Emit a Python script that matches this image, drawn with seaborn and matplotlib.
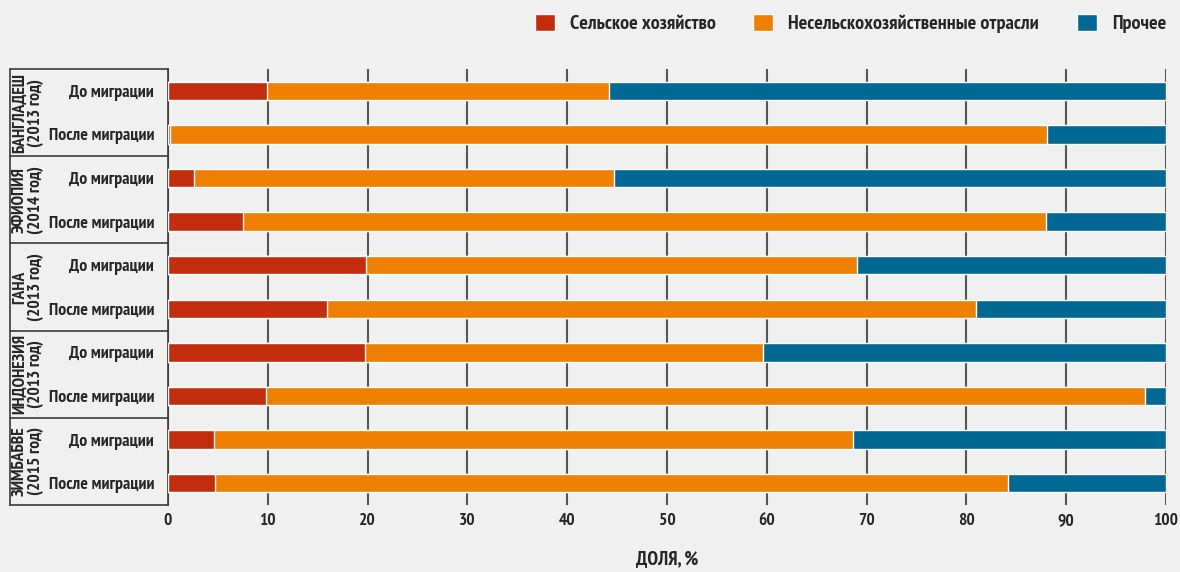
import matplotlib.pyplot as plt
import pandas as pd
import seaborn as sns
from matplotlib.patches import Patch

# ── Data ─────────────────────────────────────────────────────────────────────
countries = ["БАНГЛАДЕШ\n(2013 год)", "ЭФИОПИЯ\n(2014 год)", "ГАНА\n(2013 год)",
             "ИНДОНЕЗИЯ\n(2013 год)", "ЗИМБАБВЕ\n(2015 год)"]
periods = ["До миграции", "После миграции"]
series = ["Сельское хозяйство", "Несельскохозяйственные отрасли", "Прочее"]
agri = [9.9, 0.2, 2.6, 7.5, 19.8, 15.9, 19.7, 9.8, 4.6, 4.7]
nonagri = [34.3, 87.9, 42.1, 80.5, 49.2, 65.1, 39.9, 88.1, 64.0, 79.5]
other = [100 - a - n for a, n in zip(agri, nonagri)]
x_ticks = [0, 10, 20, 30, 40, 50, 60, 70, 80, 90, 100]

colors = ["#c32d0e", "#ef7f00", "#006993"]
BG = "#f0f0f0"
LINE = "#3a3a3a"

rows = [f"{c}|{p}" for c in countries for p in periods]
row_labels = [p for _ in countries for p in periods]

df = pd.DataFrame({"row": rows, "agri": agri, "nonagri": nonagri, "other": other})
df["cum_agri"] = df["agri"]
df["cum_nonagri"] = df["agri"] + df["nonagri"]
df["cum_other"] = df["cum_nonagri"] + df["other"]

sns.set_style("white", {"axes.facecolor": BG, "figure.facecolor": BG})
plt.rcParams["font.family"] = ["PT Sans Narrow", "Fira Sans Condensed", "Roboto Condensed",
                               "Archivo Narrow", "DejaVu Sans"]
plt.rcParams["font.weight"] = "bold"

fig = plt.figure(figsize=(11.8, 5.72), dpi=100)
ax = fig.add_axes([168 / 1180, 1 - 505 / 572, 998 / 1180, 436 / 572])

# stacked bars: draw cumulative totals from longest to shortest
for col, color in zip(["cum_other", "cum_nonagri", "cum_agri"], colors[::-1]):
    sns.barplot(data=df, x=col, y="row", order=rows, orient="h", color=color,
                width=0.42, saturation=1, ax=ax, zorder=3)

ax.set_xlim(0, 100)
ax.set_ylim(9.5, -0.5)
ax.set_xticks(x_ticks)
ax.set_xticklabels([str(t) for t in x_ticks], fontsize=12.5, fontweight="bold")
ax.set_yticks(range(len(rows)))
ax.set_yticklabels(row_labels, fontsize=12.8, fontweight="bold")
ax.tick_params(axis="both", length=0)
ax.tick_params(axis="y", pad=10)
ax.tick_params(axis="x", pad=6)
ax.set_ylabel("")
ax.set_xlabel("ДОЛЯ, %", fontsize=14, fontweight="bold")
ax.xaxis.set_label_coords(0.5, -(550 - 505) / 436)

ax.grid(axis="x", color="#555555", linewidth=1.5)
ax.set_axisbelow(True)
for s in ["top", "right", "bottom"]:
    ax.spines[s].set_visible(False)
ax.spines["left"].set_color(LINE)
ax.spines["left"].set_linewidth(1.2)

# group boxes on the left
tr = ax.get_yaxis_transform()
x_left = (10 - 168) / 998
for b in [-0.5, 1.5, 3.5, 5.5, 7.5, 9.5]:
    ax.plot([x_left, 0], [b, b], color=LINE, lw=1.2, transform=tr, clip_on=False)
ax.plot([x_left, x_left], [-0.5, 9.5], color=LINE, lw=1.2, transform=tr, clip_on=False)
for i, c in enumerate(countries):
    ax.text((28 - 168) / 998, 2 * i + 0.5, c, transform=tr, rotation=90,
            ha="center", va="center", fontsize=12.5, fontweight="bold",
            linespacing=0.95)

handles = [Patch(facecolor=c, label=s) for c, s in zip(colors, series)]
fig.legend(handles=handles, loc="center right", bbox_to_anchor=(1166 / 1180, 1 - 23.5 / 572),
           ncol=3, frameon=False, borderpad=0, borderaxespad=0,
           handlelength=1.0, handleheight=0.95, columnspacing=1.85, handletextpad=0.75,
           prop={"weight": "bold", "size": 14.5})

fig.savefig("out.png", dpi=100, facecolor=BG)
